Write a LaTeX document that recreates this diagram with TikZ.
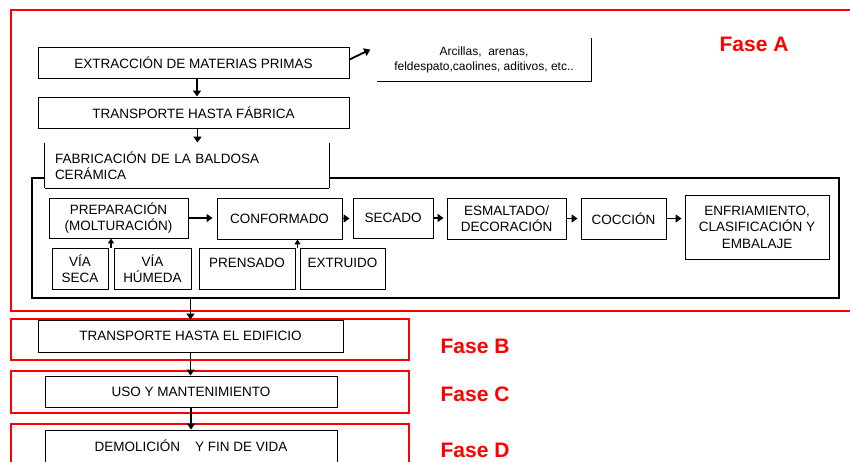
\documentclass[tikz,border=0pt]{standalone}
\usepackage{fontspec}
\setmainfont{Liberation Sans}
\usetikzlibrary{calc,arrows.meta}

\tikzset{
	caja/.style={draw=black, line width=0.9pt, fill=white, inner sep=0pt, align=center, font=\fontsize{13.5}{16.5}\selectfont},
	fase/.style={draw=red, line width=1.8pt},
	faselabel/.style={text=red, font=\fontsize{21}{24}\selectfont\bfseries},
	flecha/.style={line width=1.8pt, -{Triangle[width=8pt,length=6pt]}},
	flechita/.style={line width=1.2pt, -{Triangle[width=6pt,length=5pt]}},
}

\begin{document}
\begin{tikzpicture}[x=1pt,y=-1pt]
	%%%%% START %%%%%
	\useasboundingbox (0,0) rectangle (850,461);
	
	% fases
	\draw[fase] (11,10) rectangle (864,311);
	\draw[fase] (11,319) rectangle (409,360);
	\draw[fase] (11,371) rectangle (409,413);
	\draw[fase] (11,424) rectangle (409,478);
	
	\node[faselabel] (faseA) at (754,44) {Fase A};
	\node[faselabel] (faseB) at (475,346) {Fase B};
	\node[faselabel] (faseC) at (475,394) {Fase C};
	\node[faselabel] (faseD) at (475,450) {Fase D};
	
	% fase A
	\node[caja, minimum width=311, minimum height=31] (extr) at (193.5,62.5) {EXTRACCIÓN DE MATERIAS PRIMAS};
	\node[caja, draw=none, minimum width=214, minimum height=43, font=\fontsize{12}{15}\selectfont] (arc) at (484,59.5) {Arcillas,\ \ arenas,\\feldespato,caolines, aditivos, etc..};
	\draw[line width=1.2pt] (arc.south west) -- (arc.south east) -- (arc.north east);
	\node[caja, minimum width=311, minimum height=31] (transf) at (193.5,112.5) {TRANSPORTE HASTA FÁBRICA};
	
	\node[draw, line width=1.8pt, inner sep=0pt, minimum width=807, minimum height=120] (proc) at (435.5,238) {};
	\node[caja, draw=none, minimum width=284, minimum height=45, text width=264, align=left] (fab) at (187,165.5) {FABRICACIÓN DE LA BALDOSA\\CERÁMICA};
	\draw[line width=0.9pt] (fab.north west) -- (fab.south west);
	\draw[line width=0.9pt] (fab.north east) -- (fab.south east);
	\draw[line width=1.6pt] (fab.south west) -- (fab.south east);
	
	\node[caja, minimum width=139, minimum height=40] (prep) at (118.5,218) {PREPARACIÓN\\(MOLTURACIÓN)};
	\node[caja, minimum width=125, minimum height=41] (conf) at (279.5,218.5) {CONFORMADO};
	\node[caja, minimum width=80, minimum height=40] (sec) at (393,218) {SECADO};
	\node[caja, minimum width=119, minimum height=41] (esm) at (506.5,218.5) {ESMALTADO/\\DECORACIÓN};
	\node[caja, minimum width=85, minimum height=41] (coc) at (623.5,218.5) {COCCIÓN};
	\node[caja, minimum width=144, minimum height=64] (enf) at (757,227) {ENFRIAMIENTO,\\CLASIFICACIÓN Y\\EMBALAJE};
	
	\node[caja, minimum width=56, minimum height=41] (vseca) at (80,268.5) {VÍA\\SECA};
	\node[caja, minimum width=77, minimum height=41] (vhum) at (152.5,268.5) {VÍA\\HÚMEDA};
	\node[caja, minimum width=96, minimum height=41, text depth=12pt] (pren) at (247,268.5) {PRENSADO};
	\node[caja, minimum width=85, minimum height=41, text depth=12pt] (extru) at (342.5,268.5) {EXTRUIDO};
	
	% fases B, C, D
	\node[caja, minimum width=305, minimum height=32] (tedif) at (190.5,336) {TRANSPORTE HASTA EL EDIFICIO};
	\node[caja, minimum width=292, minimum height=31] (uso) at (191,391.5) {USO Y MANTENIMIENTO};
	\node[caja, minimum width=292, minimum height=44, text depth=12pt] (demo) at (191,452) {DEMOLICIÓN\hspace{1.1em}Y FIN DE VIDA};
	
	% bordes inferiores
	\foreach \n in {extr,transf,prep,conf,sec,esm,coc,enf,vseca,vhum,pren,extru,tedif,uso}
		\draw[line width=1.6pt] (\n.south west) -- (\n.south east);
	
	% flechas
	\draw[flecha] ([xshift=3.5]extr.south) -- ([xshift=3.5]transf.north);
	\draw[flecha] ([xshift=4]transf.south) -- ([xshift=4]transf.south |- fab.north);
	\draw[flecha, shorten >=7] ([yshift=3]extr.east) -- ([yshift=13]arc.west);
	
	\draw[flecha, shorten >=4] (prep.east) -- (prep.east -| conf.west);
	\draw[flecha, shorten >=3] (conf.east) -- (conf.east -| sec.west);
	\draw[flecha, shorten >=3] (sec.east) -- (sec.east -| esm.west);
	\draw[flecha, shorten >=3] (esm.east) -- (esm.east -| coc.west);
	\draw[flecha, shorten >=3] (coc.east) -- (coc.east -| enf.west);
	
	\coordinate (vmid) at ($(vseca.north east)!0.5!(vhum.north west)$);
	\draw[flechita] (vmid) -- (vmid |- prep.south);
	\coordinate (cmid) at ($(pren.north east)!0.5!(extru.north west)$);
	\draw[flechita] (cmid) -- (cmid |- conf.south);
	
	\draw[flecha] (tedif.north |- proc.south) -- (tedif.north);
	\draw[flecha] (tedif.south) -- (tedif.south |- uso.north);
	\draw[flecha] (uso.south) -- (uso.south |- demo.north);
	
	%%%%% END %%%%%
\end{tikzpicture}
\end{document}
